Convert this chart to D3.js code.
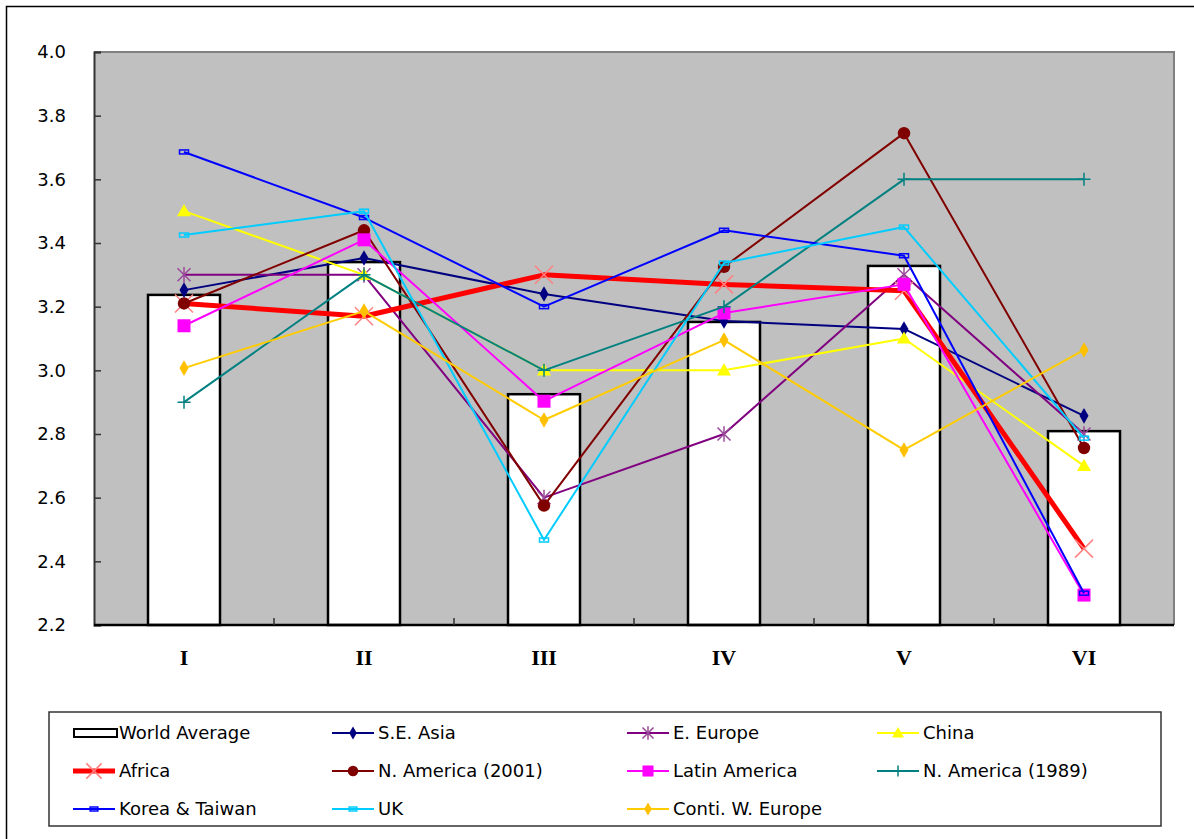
<!DOCTYPE html>
<html>
<head>
<meta charset="utf-8">
<script src="https://cdn.jsdelivr.net/npm/d3@7"></script>
<style>
  html, body { margin: 0; padding: 0; background: #fff; }
  svg { display: block; }
  text { font-family: "DejaVu Sans", "Liberation Sans", Arial, sans-serif; fill: #000; }
</style>
</head>
<body>
<svg id="chart" width="1194" height="839"></svg>
<script>
// Categories along the x axis
const categories = ["I", "II", "III", "IV", "V", "VI"];

// World average (bars)
const worldAverage = [3.237, 3.34, 2.925, 3.152, 3.328, 2.809];

// Regional series (lines)
const seAsia        = [3.252, 3.353, 3.24, 3.155, 3.13, 2.857];
const eEurope       = [3.30, 3.30, 2.60, 2.80, 3.30, 2.80];
const china         = [3.50, 3.30, 3.00, 3.00, 3.10, 2.70];
const africa        = [3.21, 3.17, 3.30, 3.27, 3.25, 2.44];
const nAmerica2001  = [3.21, 3.44, 2.575, 3.325, 3.745, 2.756];
const latinAmerica  = [3.14, 3.41, 2.903, 3.18, 3.27, 2.294];
const nAmerica1989  = [2.90, 3.30, 3.00, 3.20, 3.60, 3.60];
const koreaTaiwan   = [3.686, 3.48, 3.20, 3.44, 3.36, 2.30];
const uk            = [3.425, 3.50, 2.467, 3.337, 3.45, 2.787];
const contiWEurope  = [3.007, 3.186, 2.844, 3.095, 2.75, 3.064];

// Y axis ticks
const yTicks = [2.2, 2.4, 2.6, 2.8, 3.0, 3.2, 3.4, 3.6, 3.8, 4.0];

const series = [
  { name: "S.E. Asia",          values: seAsia,       color: "#000080", width: 2,   marker: "diamond",  mcolor: "#000080" },
  { name: "E. Europe",          values: eEurope,      color: "#800080", width: 2,   marker: "asterisk", mcolor: "#9a4a9a" },
  { name: "China",              values: china,        color: "#FFFF00", width: 2,   marker: "triangle", mcolor: "#FFFF00" },
  { name: "Africa",             values: africa,       color: "#FF0000", width: 5,   marker: "x",        mcolor: "#FF8080" },
  { name: "N. America (2001)",  values: nAmerica2001, color: "#800000", width: 2,   marker: "circle",   mcolor: "#800000" },
  { name: "Latin America",      values: latinAmerica, color: "#FF00FF", width: 2,   marker: "square",   mcolor: "#FF00FF" },
  { name: "N. America (1989)",  values: nAmerica1989, color: "#008080", width: 2,   marker: "plus",     mcolor: "#008080" },
  { name: "Korea & Taiwan",     values: koreaTaiwan,  color: "#0000FF", width: 2,   marker: "dash",     mcolor: "#0000FF" },
  { name: "UK",                 values: uk,           color: "#00CCFF", width: 2,   marker: "dash",     mcolor: "#00CCFF" },
  { name: "Conti. W. Europe",   values: contiWEurope, color: "#FFCC00", width: 2,   marker: "diamond",  mcolor: "#FFC000" }
];

const svg = d3.select("#chart");

// Outer chart frame
svg.append("rect")
  .attr("x", 6.5).attr("y", 6.5)
  .attr("width", 1200).attr("height", 850)
  .attr("fill", "#fff").attr("stroke", "#000").attr("stroke-width", 1.5);

const plot = { left: 94, right: 1174, top: 52, bottom: 625 };

const x = d3.scaleBand().domain(categories).range([plot.left, plot.right]).padding(0);
const xBar = d3.scaleBand().domain(categories).range([plot.left, plot.right]).paddingInner(0.6).paddingOuter(0.3);
const y = d3.scaleLinear().domain([2.2, 4.0]).range([plot.bottom, plot.top]);
const cx = c => x(c) + x.bandwidth() / 2;

// Plot area background
svg.append("rect")
  .attr("x", plot.left).attr("y", plot.top)
  .attr("width", plot.right - plot.left).attr("height", plot.bottom - plot.top)
  .attr("fill", "#C0C0C0");

// Plot area border (top and right in gray)
svg.append("path")
  .attr("d", `M${plot.left},${plot.top}H${plot.right}V${plot.bottom}`)
  .attr("fill", "none").attr("stroke", "#808080").attr("stroke-width", 2);

// Bars: world average
svg.append("g").selectAll("rect")
  .data(worldAverage)
  .join("rect")
  .attr("x", (d, i) => xBar(categories[i]))
  .attr("y", d => y(d))
  .attr("width", xBar.bandwidth())
  .attr("height", d => y(2.2) - y(d))
  .attr("fill", "#fff").attr("stroke", "#000").attr("stroke-width", 2.5);

// Y axis
const yAxis = svg.append("g")
  .attr("transform", `translate(${plot.left},0)`)
  .call(d3.axisRight(y).tickValues(yTicks).tickSize(7).tickFormat(""));
yAxis.select(".domain").attr("stroke", "#333").attr("stroke-width", 2);
yAxis.selectAll(".tick line").attr("stroke", "#333").attr("stroke-width", 1.5);

svg.append("g").selectAll("text")
  .data(yTicks)
  .join("text")
  .attr("x", 66).attr("y", d => y(d))
  .attr("dy", "0.36em")
  .attr("text-anchor", "end")
  .attr("font-size", 18)
  .text(d => d3.format(".1f")(d));

// X axis with ticks between categories
const xAxisG = svg.append("g").attr("transform", `translate(0,${plot.bottom})`);
xAxisG.append("line")
  .attr("x1", plot.left).attr("x2", plot.right)
  .attr("stroke", "#000").attr("stroke-width", 2.5);
xAxisG.selectAll(".xt")
  .data(categories.slice(1))
  .join("line")
  .attr("class", "xt")
  .attr("x1", d => x(d)).attr("x2", d => x(d))
  .attr("y1", 0).attr("y2", -7)
  .attr("stroke", "#333").attr("stroke-width", 1.5);
svg.append("g").selectAll("text")
  .data(categories)
  .join("text")
  .attr("x", d => cx(d)).attr("y", 665)
  .attr("text-anchor", "middle")
  .attr("font-size", 22)
  .attr("font-weight", "bold")
  .style("font-family", "'Liberation Serif', 'DejaVu Serif', serif")
  .text(d => d);

// Marker drawing
function drawMarker(g, type, color, px, py, scale = 1) {
  const s = scale;
  switch (type) {
    case "diamond":
      g.append("path").attr("d", d3.symbol(d3.symbolDiamond, 70 * s * s)())
        .attr("transform", `translate(${px},${py})`).attr("fill", color);
      break;
    case "triangle":
      g.append("path").attr("d", d3.symbol(d3.symbolTriangle, 85 * s * s)())
        .attr("transform", `translate(${px},${py + 1})`).attr("fill", color);
      break;
    case "circle":
      g.append("circle").attr("cx", px).attr("cy", py).attr("r", 6.2 * s).attr("fill", color);
      break;
    case "square":
      g.append("rect").attr("x", px - 6.5 * s).attr("y", py - 6.5 * s)
        .attr("width", 13 * s).attr("height", 13 * s).attr("fill", color);
      break;
    case "x": {
      const r = 9 * s;
      g.append("path").attr("d", `M${px - r},${py - r}L${px + r},${py + r}M${px - r},${py + r}L${px + r},${py - r}`)
        .attr("stroke", color).attr("stroke-width", 1.5).attr("fill", "none");
      break;
    }
    case "asterisk": {
      const r = 6.5 * s;
      g.append("path").attr("d",
        `M${px - r},${py - r}L${px + r},${py + r}M${px - r},${py + r}L${px + r},${py - r}M${px},${py - r * 1.2}L${px},${py + r * 1.2}`)
        .attr("stroke", color).attr("stroke-width", 1.5).attr("fill", "none");
      break;
    }
    case "plus": {
      const r = 6.5 * s;
      g.append("path").attr("d", `M${px - r},${py}L${px + r},${py}M${px},${py - r}L${px},${py + r}`)
        .attr("stroke", color).attr("stroke-width", 1.5).attr("fill", "none");
      break;
    }
    case "dash":
      g.append("rect").attr("x", px - 4.5 * s).attr("y", py - 2)
        .attr("width", 9 * s).attr("height", 4)
        .attr("fill", "none").attr("stroke", color).attr("stroke-width", 1.5);
      break;
  }
}

// Lines and markers
const line = d3.line().x((d, i) => cx(categories[i])).y(d => y(d));
const linesG = svg.append("g");
series.forEach(s => {
  const g = linesG.append("g");
  g.append("path")
    .datum(s.values)
    .attr("d", line)
    .attr("fill", "none")
    .attr("stroke", s.color)
    .attr("stroke-width", s.width)
    .attr("stroke-linejoin", "round");
  s.values.forEach((v, i) => drawMarker(g, s.marker, s.mcolor, cx(categories[i]), y(v)));
});

// Legend
const legend = svg.append("g");
legend.append("rect")
  .attr("x", 49).attr("y", 712).attr("width", 1112).attr("height", 114)
  .attr("fill", "#fff").attr("stroke", "#333").attr("stroke-width", 1.5);

const legendItems = [{ name: "World Average", bar: true }].concat(series);
const colX = [73, 332, 627, 877];
const rowY = [733, 771, 809];
legendItems.forEach((item, k) => {
  const col = k % 4, row = Math.floor(k / 4);
  const lx = colX[col], ly = rowY[row];
  const g = legend.append("g");
  if (item.bar) {
    g.append("rect").attr("x", lx + 1).attr("y", ly - 4).attr("width", 43).attr("height", 8)
      .attr("fill", "#fff").attr("stroke", "#000").attr("stroke-width", 2);
  } else {
    g.append("line").attr("x1", lx).attr("x2", lx + 42).attr("y1", ly).attr("y2", ly)
      .attr("stroke", item.color).attr("stroke-width", item.width);
    drawMarker(g, item.marker, item.mcolor, lx + 21, ly, 0.85);
  }
  g.append("text")
    .attr("x", lx + 46).attr("y", ly)
    .attr("dy", "0.36em")
    .attr("font-size", 18)
    .text(item.name);
});
</script>
</body>
</html>
